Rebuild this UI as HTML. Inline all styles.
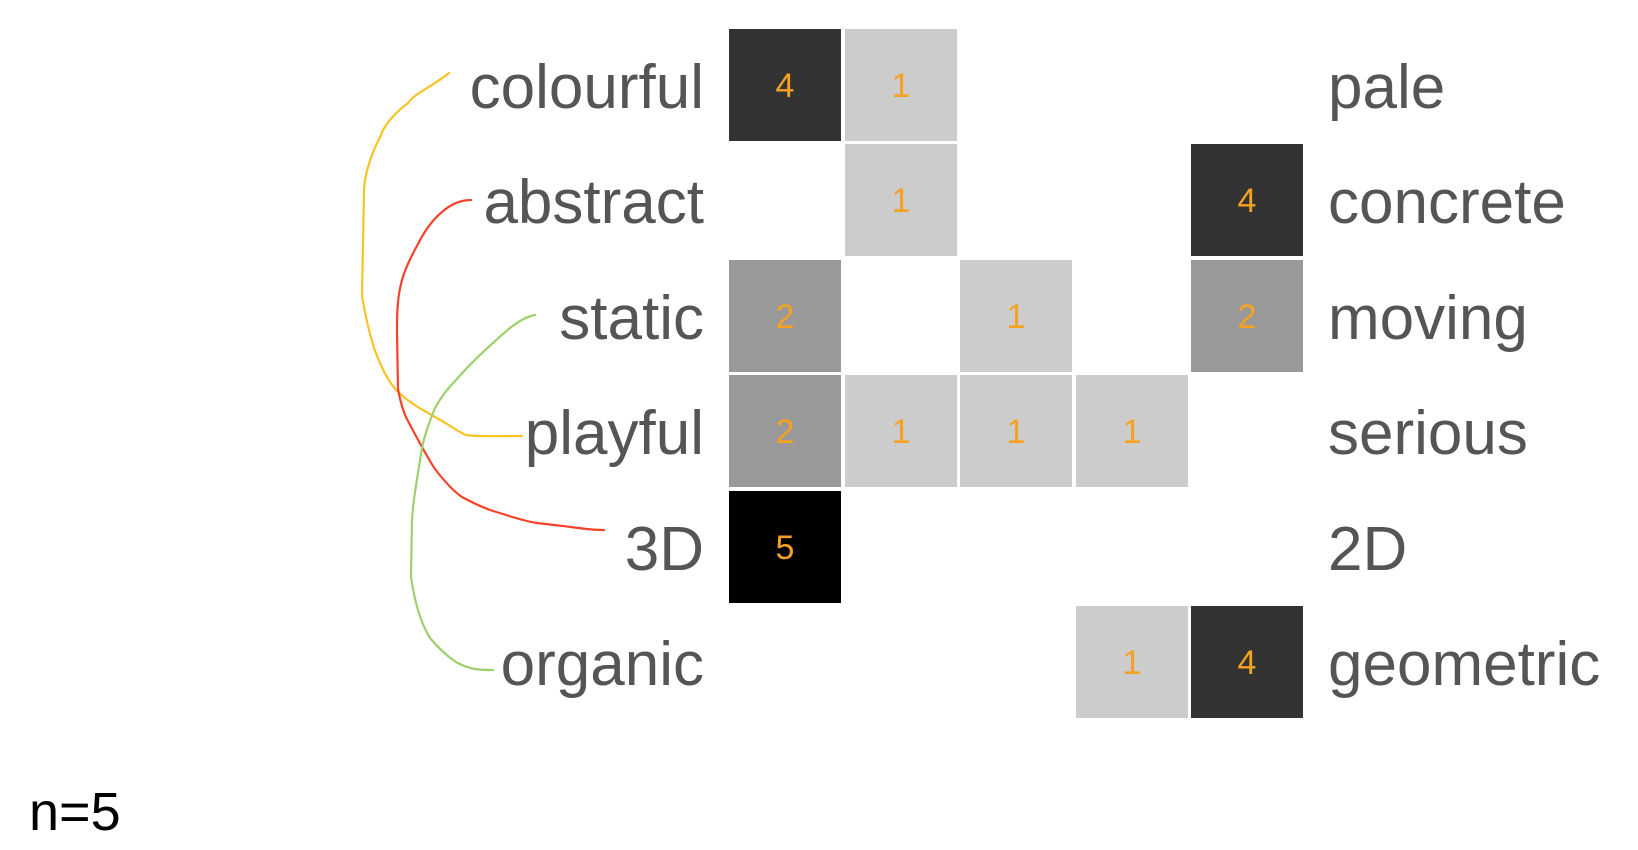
<!DOCTYPE html>
<html><head><meta charset="utf-8"><style>
html,body{margin:0;padding:0;background:#fff;}
svg{display:block;}
</style></head><body>
<svg width="1638" height="850" viewBox="0 0 1638 850" xmlns="http://www.w3.org/2000/svg">
<g fill="none" stroke-width="2.2" stroke-linecap="round" stroke-linejoin="round">
<path stroke="#f7c325" d="M449,73 C430,88 415,93 408,103 C392,115 383,128 381,135 C368,160 364,180 364,192 L362,296 C366,320 370,335 374,348 C382,370 390,384 398,392 C412,405 425,411 435,417 C450,425 458,432 466,435 C480,437 500,436 522,436"/>
<path stroke="#f5432a" d="M471,200 C460,200 450,205 442,212 C430,222 423,234 418,244 C408,262 403,275 401,284 C397,300 397,318 397,332 L398,389 C401,405 404,414 408,421 C418,440 427,457 435,469 C445,482 453,491 462,497 C475,504 484,508 493,511 C510,516 523,521 537,523 C555,525 562,526 571,527 C585,529 595,530 604,530"/>
<path stroke="#9dd06a" d="M535,315 C525,317 518,322 510,328 C490,345 470,364 456,380 C446,390 440,399 435,408 C428,425 424,438 422,448 C417,480 413,500 412,521 L411,577 C415,605 422,625 430,638 C440,650 450,658 456,662 C470,670 480,670 493,670"/>
</g>
<g fill="#555" font-family="Liberation Sans, Arial, sans-serif" font-size="62" text-anchor="end">
<text x="704" y="108">colourful</text>
<text x="704" y="223">abstract</text>
<text x="704" y="339">static</text>
<text x="704" y="454">playful</text>
<text x="704" y="570">3D</text>
<text x="704" y="685">organic</text>
</g>
<g fill="#555" font-family="Liberation Sans, Arial, sans-serif" font-size="62">
<text x="1328" y="108">pale</text>
<text x="1328" y="223">concrete</text>
<text x="1328" y="339">moving</text>
<text x="1328" y="454">serious</text>
<text x="1328" y="570">2D</text>
<text x="1328" y="685">geometric</text>
</g>
<g>
<rect x="729" y="29" width="112" height="112" fill="#333"/>
<rect x="845" y="29" width="112" height="112" fill="#ccc"/>
<rect x="845" y="144" width="112" height="112" fill="#ccc"/>
<rect x="1191" y="144" width="112" height="112" fill="#333"/>
<rect x="729" y="260" width="112" height="112" fill="#999"/>
<rect x="960" y="260" width="112" height="112" fill="#ccc"/>
<rect x="1191" y="260" width="112" height="112" fill="#999"/>
<rect x="729" y="375" width="112" height="112" fill="#999"/>
<rect x="845" y="375" width="112" height="112" fill="#ccc"/>
<rect x="960" y="375" width="112" height="112" fill="#ccc"/>
<rect x="1076" y="375" width="112" height="112" fill="#ccc"/>
<rect x="729" y="491" width="112" height="112" fill="#000"/>
<rect x="1076" y="606" width="112" height="112" fill="#ccc"/>
<rect x="1191" y="606" width="112" height="112" fill="#333"/>
</g>
<g fill="#f5a122" font-family="Liberation Sans, Arial, sans-serif" font-size="34" text-anchor="middle">
<text x="785" y="97">4</text>
<text x="901" y="97">1</text>
<text x="901" y="212">1</text>
<text x="1247" y="212">4</text>
<text x="785" y="328">2</text>
<text x="1016" y="328">1</text>
<text x="1247" y="328">2</text>
<text x="785" y="443">2</text>
<text x="901" y="443">1</text>
<text x="1016" y="443">1</text>
<text x="1132" y="443">1</text>
<text x="785" y="559">5</text>
<text x="1132" y="674">1</text>
<text x="1247" y="674">4</text>
</g>
<text x="29" y="830" fill="#000" font-family="Liberation Sans, Arial, sans-serif" font-size="54">n=5</text>
</svg>
</body></html>
